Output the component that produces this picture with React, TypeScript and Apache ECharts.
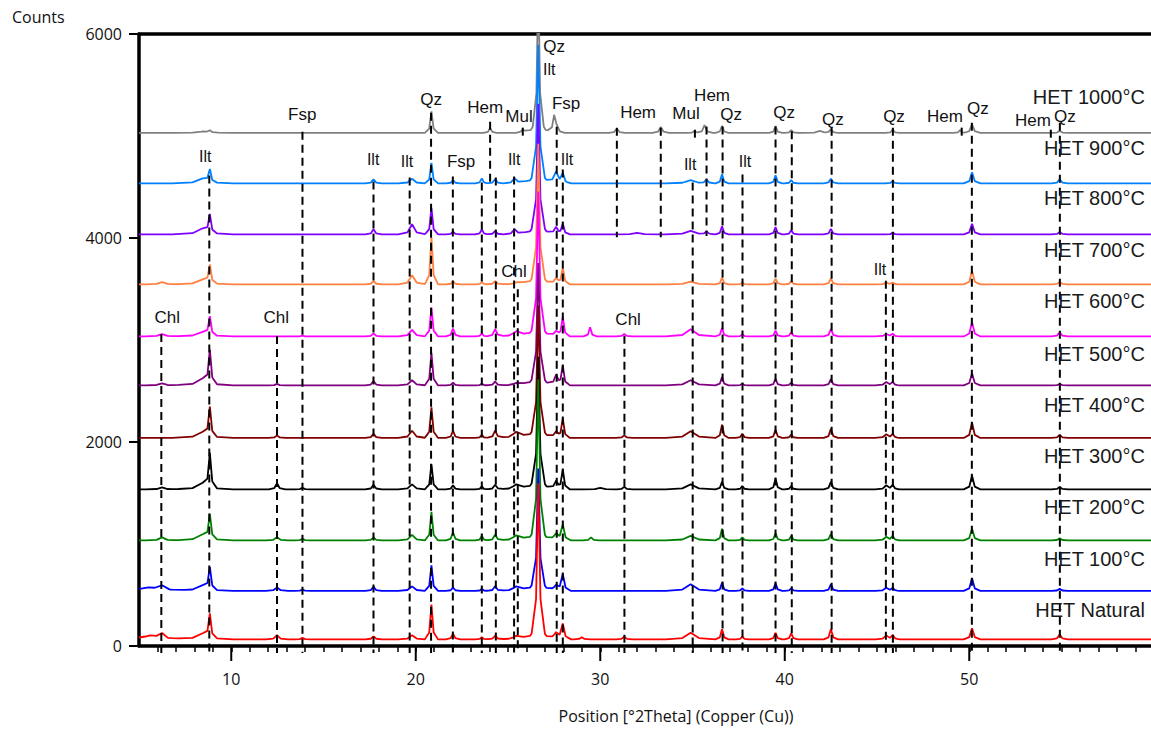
import React, { useEffect, useRef } from "react";
import * as echarts from "echarts";

// ---------- data ----------
const X_MIN = 5;
const X_MAX = 59.85;

const SAMPLE_NAMES = [
  "HET 1000°C", "HET 900°C", "HET 800°C", "HET 700°C", "HET 600°C", "HET 500°C",
  "HET 400°C", "HET 300°C", "HET 200°C", "HET 100°C", "HET Natural",
];
const SAMPLE_COLORS = [
  "#808080", "#0080ff", "#8000ff", "#ff8040", "#ff00ff", "#800080",
  "#800000", "#000000", "#008000", "#0000ff", "#ff0000",
];
const BASELINES = [5030, 4535, 4035, 3545, 3035, 2555, 2040, 1535, 1035, 540, 65];
const SAMPLE_LABEL_Y = [5385, 4886, 4388, 3880, 3381, 2863, 2365, 1866, 1358, 850, 352];

// peaks: [position °2θ, height above baseline (counts), half width at base]
const peaks1000 = [
  [8.45, 15, 0.55], [8.84, 20, 0.15], [20.85, 212, 0.12], [24.03, 50, 0.12], [25.8, 20, 0.12],
  [26.64, 1350, 0.1], [26.64, 150, 0.4], [27.5, 150, 0.12], [27.64, 60, 0.15],
  [30.9, 43, 0.15], [33.28, 60, 0.15], [35.1, 17, 0.15], [35.65, 76, 0.15],
  [36.6, 70, 0.12], [39.5, 67, 0.12], [40.35, 27, 0.12], [41.9, 20, 0.3],
  [42.5, 33, 0.13], [45.85, 33, 0.13], [49.5, 27, 0.12], [50.15, 85, 0.15], [54.9, 20, 0.15],
];
const peaks900 = [
  [8.45, 50, 0.55], [8.84, 120, 0.13], [17.71, 40, 0.15], [19.8, 46, 0.25], [20.85, 202, 0.12],
  [22.02, 33, 0.13], [23.58, 50, 0.12], [24.3, 40, 0.15], [25.35, 50, 0.2],
  [26.64, 1210, 0.12], [26.64, 150, 0.45], [27.6, 100, 0.2], [27.97, 90, 0.15],
  [34.9, 33, 0.45], [35.76, 33, 0.15], [36.6, 90, 0.12], [39.5, 80, 0.12], [40.35, 33, 0.12],
  [42.5, 46, 0.13], [45.85, 23, 0.13], [50.15, 110, 0.15], [54.9, 40, 0.15],
];
const peaks800 = [
  [8.45, 60, 0.55], [8.84, 175, 0.13], [17.71, 50, 0.15], [19.8, 100, 0.25], [20.85, 260, 0.12],
  [22.02, 26, 0.13], [23.58, 50, 0.12], [24.3, 33, 0.15], [25.35, 50, 0.2],
  [26.64, 1130, 0.12], [26.64, 150, 0.45], [27.6, 60, 0.15], [27.97, 104, 0.13],
  [32, 15, 0.4], [34.9, 35, 0.45], [35.76, 25, 0.15], [36.6, 80, 0.12], [39.5, 73, 0.12],
  [40.35, 40, 0.12], [42.5, 55, 0.13], [45.85, 15, 0.13], [50.15, 105, 0.15], [54.9, 23, 0.15],
];
const peaks700 = [
  [6.25, 23, 0.3], [8.45, 50, 0.55], [8.84, 175, 0.13], [17.71, 33, 0.15], [19.8, 90, 0.25],
  [20.85, 460, 0.12], [22.02, 33, 0.13], [23.58, 23, 0.12], [24.3, 33, 0.15], [25.45, 16, 0.4],
  [26.64, 1230, 0.12], [26.64, 150, 0.45], [27.6, 50, 0.15], [27.97, 163, 0.13],
  [34.9, 27, 0.45], [36.6, 66, 0.12], [37.7, 16, 0.12], [39.5, 57, 0.12], [40.35, 33, 0.12],
  [42.5, 57, 0.13], [45.5, 16, 0.2], [45.85, 16, 0.13], [50.15, 133, 0.15], [54.9, 23, 0.15],
];
const peaks600 = [
  [6.25, 23, 0.3], [8.45, 45, 0.55], [8.84, 180, 0.13], [13.86, 7, 0.15], [17.71, 30, 0.15],
  [19.8, 65, 0.25], [20.85, 283, 0.12], [22.02, 78, 0.13], [23.58, 30, 0.12], [24.3, 72, 0.15],
  [25.45, 46, 0.4], [26.64, 1270, 0.12], [26.64, 150, 0.45], [27.6, 40, 0.15], [27.97, 186, 0.13],
  [29.45, 90, 0.12], [31.3, 23, 0.15], [34.9, 70, 0.45], [36.6, 83, 0.12], [37.7, 20, 0.12],
  [39.5, 57, 0.12], [40.35, 40, 0.12], [42.5, 73, 0.13], [45.5, 23, 0.2], [45.85, 23, 0.13],
  [50.15, 140, 0.15], [54.9, 40, 0.15],
];
const peaks500 = [
  [6.25, 20, 0.3], [8.45, 70, 0.55], [8.84, 320, 0.13], [12.48, 15, 0.15], [17.71, 42, 0.15],
  [19.8, 50, 0.25], [20.85, 320, 0.12], [22.02, 26, 0.13], [23.58, 16, 0.12], [24.3, 36, 0.15],
  [25.45, 20, 0.4], [26.64, 1050, 0.12], [26.64, 150, 0.45], [27.6, 90, 0.15], [27.97, 190, 0.13],
  [34.9, 50, 0.45], [36.6, 83, 0.12], [37.7, 16, 0.12], [39.5, 65, 0.12], [40.35, 26, 0.12],
  [42.5, 60, 0.13], [45.5, 33, 0.2], [45.85, 30, 0.13], [50.15, 117, 0.15], [54.9, 12, 0.15],
];
const peaks400 = [
  [8.45, 60, 0.55], [8.84, 280, 0.13], [12.48, 25, 0.15], [17.71, 40, 0.15], [19.8, 70, 0.25],
  [20.85, 300, 0.12], [22.02, 70, 0.13], [23.58, 30, 0.12], [24.3, 70, 0.15], [25.45, 55, 0.4],
  [26.64, 1150, 0.12], [26.64, 150, 0.45], [27.6, 50, 0.15], [27.97, 185, 0.13], [31.3, 25, 0.15],
  [34.9, 65, 0.45], [36.6, 130, 0.12], [37.7, 40, 0.12], [39.5, 80, 0.12], [40.35, 33, 0.12],
  [42.5, 90, 0.13], [45.5, 35, 0.2], [45.85, 35, 0.13], [50.15, 150, 0.15], [54.9, 30, 0.15],
];
const peaks300 = [
  [6.25, 20, 0.3], [8.45, 65, 0.55], [8.84, 330, 0.13], [12.48, 60, 0.15], [13.86, 15, 0.15],
  [17.71, 45, 0.15], [19.8, 50, 0.25], [20.85, 245, 0.12], [22.02, 40, 0.13], [23.58, 30, 0.12],
  [24.3, 45, 0.15], [25.45, 45, 0.4], [26.64, 1150, 0.12], [26.64, 150, 0.45], [27.6, 70, 0.15],
  [27.97, 190, 0.13], [30.0, 15, 0.3], [31.3, 25, 0.15], [34.9, 50, 0.45], [36.6, 75, 0.12],
  [37.7, 33, 0.12], [39.5, 105, 0.12], [40.35, 33, 0.12], [42.5, 75, 0.13], [45.5, 40, 0.2],
  [45.85, 40, 0.13], [50.15, 135, 0.15], [54.9, 25, 0.15],
];
const peaks200 = [
  [6.25, 30, 0.3], [8.45, 60, 0.55], [8.84, 235, 0.13], [12.48, 30, 0.2], [13.86, 15, 0.15],
  [17.71, 30, 0.15], [19.8, 55, 0.25], [20.85, 280, 0.12], [22.02, 80, 0.13], [23.58, 45, 0.12],
  [24.3, 55, 0.15], [25.45, 45, 0.4], [26.64, 1430, 0.12], [26.64, 150, 0.45], [27.6, 50, 0.2],
  [27.97, 150, 0.15], [29.5, 30, 0.15], [34.9, 45, 0.45], [36.6, 115, 0.12], [37.7, 30, 0.12],
  [39.5, 70, 0.12], [40.35, 45, 0.12], [42.5, 65, 0.13], [45.5, 35, 0.2], [45.85, 40, 0.13],
  [50.15, 115, 0.15], [54.9, 20, 0.15],
];
const peaks100 = [
  [5.5, 30, 1.2], [6.25, 40, 0.4], [8.45, 55, 0.55], [8.84, 210, 0.13], [12.48, 35, 0.2],
  [13.86, 10, 0.15], [17.71, 40, 0.15], [19.8, 45, 0.25], [20.85, 250, 0.12], [22.02, 33, 0.13],
  [23.58, 20, 0.12], [24.3, 45, 0.15], [25.45, 40, 0.4], [26.64, 1060, 0.12], [26.64, 140, 0.45],
  [27.6, 40, 0.2], [27.97, 160, 0.15], [34.9, 65, 0.45], [36.6, 80, 0.12], [37.7, 25, 0.12],
  [39.5, 75, 0.12], [40.35, 25, 0.12], [42.5, 65, 0.13], [45.5, 30, 0.2], [45.85, 25, 0.13],
  [50.15, 125, 0.15], [54.9, 20, 0.15],
];
const peaksNatural = [
  [5.6, 35, 1.0], [6.25, 45, 0.3], [8.45, 60, 0.55], [8.84, 230, 0.13], [12.48, 40, 0.2],
  [13.86, 15, 0.15], [17.71, 30, 0.15], [19.8, 40, 0.25], [20.85, 340, 0.12], [22.02, 55, 0.13],
  [23.58, 20, 0.12], [24.3, 35, 0.15], [25.45, 30, 0.4], [26.64, 1380, 0.12], [26.64, 150, 0.45],
  [27.6, 50, 0.2], [27.97, 150, 0.15], [29.0, 20, 0.15], [31.3, 25, 0.15], [34.9, 65, 0.45],
  [36.6, 100, 0.12], [37.7, 28, 0.12], [39.5, 65, 0.12], [40.35, 58, 0.12], [42.5, 100, 0.13],
  [45.5, 38, 0.2], [45.85, 38, 0.13], [50.15, 110, 0.15], [54.9, 48, 0.15],
];
const PEAKS = [
  peaks1000, peaks900, peaks800, peaks700, peaks600, peaks500,
  peaks400, peaks300, peaks200, peaks100, peaksNatural,
];

// dashed reference lines: position, top (counts), bottom (counts)
const MARKER_X = [
  6.21, 8.81, 12.48, 13.86, 17.71, 19.67, 20.83, 22.01, 23.58, 24.03, 24.34, 25.33, 25.53, 25.8,
  27.64, 27.97, 30.9, 31.31, 33.28, 35.01, 35.13, 35.76, 36.63, 37.71, 39.5, 40.38, 42.54,
  45.48, 45.86, 49.59, 50.14, 54.42, 54.91,
];
const MARKER_TOP = [
  3059, 4612, 3039, 5042, 4554, 4593, 5228, 4603, 4544, 5140, 4593, 4603, 3498, 5082,
  5091, 4671, 5082, 3042, 5082, 4544, 5062, 5094, 5094, 4622, 5094, 5046, 5082,
  3580, 5082, 5082, 5130, 5062, 5130,
];
const MARKER_BOTTOM = [
  0, 0, 0, 0, 0, 0, 0, 0, 0, 4544, 0, 0, 0, 4984,
  0, 0, 4007, 0, 4007, 0, 4984, 4019, 0, 0, 0, 0, 0,
  0, 0, 5003, 0, 4964, 0,
];

// phase labels
const PHASE_TEXT = [
  "Chl", "Ilt", "Chl", "Fsp", "Ilt", "Ilt", "Qz", "Fsp", "Hem", "Mul", "Ilt", "Chl",
  "Qz", "Ilt", "Fsp", "Ilt", "Hem", "Chl", "Mul", "Hem", "Ilt", "Qz", "Ilt", "Qz",
  "Qz", "Qz", "Ilt", "Hem", "Qz", "Hem", "Qz",
];
const PHASE_X = [
  6.53, 8.59, 12.44, 13.85, 17.69, 19.53, 20.83, 22.46, 23.76, 25.6, 25.33, 25.33,
  27.5, 27.23, 28.15, 28.2, 32.05, 31.51, 34.65, 36.06, 34.87, 37.09, 37.85, 39.96,
  42.61, 45.92, 45.16, 48.68, 50.47, 53.45, 55.18,
];
const PHASE_Y = [
  3225, 4800, 3225, 5209, 4769, 4749, 5355, 4749, 5277, 5189, 4769, 3674,
  5873, 5648, 5316, 4769, 5228, 3205, 5218, 5394, 4720, 5209, 4749, 5228,
  5160, 5189, 3694, 5189, 5267, 5150, 5189,
];

const X_MAJOR_TICKS = [10, 20, 30, 40, 50];
const Y_TICK_INTERVAL = 2000;

const FONT_AXIS = "'Open Sans', 'Noto Sans', sans-serif";
const FONT_ANN = "'Liberation Sans', Arial, sans-serif";

// ---------- helpers ----------
// each peak: sharp core (70 %) plus a wider skirt (30 %)
function peakAt(x: number, p: number, h: number, w: number) {
  const core = Math.max(0, 1 - Math.abs(x - p) / w) * 0.7 * h;
  const skirt = Math.max(0, 1 - Math.abs(x - p) / (w * 3)) * 0.3 * h;
  return core + skirt;
}

function buildTrace(base: number, peaks: number[][]) {
  const xs: number[] = [X_MIN, X_MAX];
  peaks.forEach(([p, , w]) => xs.push(p - 3 * w, p - w, p, p + w, p + 3 * w));
  xs.sort((a, b) => a - b);
  return xs
    .filter((x) => x >= X_MIN && x <= X_MAX)
    .map((x) => [x, base + peaks.reduce((s, [p, h, w]) => s + peakAt(x, p, h, w), 0)]);
}

export default function App() {
  const ref = useRef<HTMLDivElement>(null);

  useEffect(() => {
    if (!ref.current) return;
    const chart = echarts.init(ref.current, undefined, { renderer: "svg" });

    const traceSeries = PEAKS.map((pk, i) => ({
      type: "line",
      name: SAMPLE_NAMES[i],
      data: buildTrace(BASELINES[i], pk),
      showSymbol: false,
      symbol: "none",
      lineStyle: { color: SAMPLE_COLORS[i], width: 1.8 },
      itemStyle: { color: SAMPLE_COLORS[i] },
      z: 2,
      silent: true,
    }));

    const markerSeries = {
      type: "custom",
      data: MARKER_X.map((x, i) => [x, MARKER_TOP[i], MARKER_BOTTOM[i]]),
      z: 5,
      silent: true,
      clip: false,
      renderItem: (params: any, api: any) => {
        const x = api.value(0);
        const top = api.value(1);
        const bot = api.value(2);
        const p1 = api.coord([x, top]);
        const p2 = api.coord([x, bot]);
        return {
          type: "line",
          shape: { x1: p1[0], y1: p1[1], x2: p2[0], y2: p2[1] + (bot === 0 ? 7 : 0) },
          style: { stroke: "#000", lineWidth: 2, lineDash: [8, 5] },
        };
      },
    };

    const phaseLabelSeries = {
      type: "custom",
      data: PHASE_X.map((x, i) => [x, PHASE_Y[i]]),
      z: 6,
      silent: true,
      clip: false,
      renderItem: (params: any, api: any) => {
        const p = api.coord([api.value(0), api.value(1)]);
        const t = PHASE_TEXT[params.dataIndex];
        return {
          type: "text",
          x: p[0],
          y: p[1],
          style: {
            text: t,
            fontSize: t === "Ilt" ? 16 : 17,
            fontFamily: FONT_ANN,
            fill: "#111",
            align: "center",
            verticalAlign: "middle",
          },
        };
      },
    };

    const sampleLabelSeries = {
      type: "custom",
      data: SAMPLE_LABEL_Y.map((y) => [59.52, y]),
      z: 6,
      silent: true,
      clip: false,
      renderItem: (params: any, api: any) => {
        const p = api.coord([api.value(0), api.value(1)]);
        return {
          type: "text",
          x: p[0],
          y: p[1],
          style: {
            text: SAMPLE_NAMES[params.dataIndex],
            fontSize: 20,
            fontFamily: FONT_ANN,
            fill: "#1a1a1a",
            align: "right",
            verticalAlign: "middle",
          },
        };
      },
    };

    const majorTickSeries = {
      type: "custom",
      data: X_MAJOR_TICKS.map((v) => [v, 0]),
      z: 6,
      silent: true,
      clip: false,
      renderItem: (params: any, api: any) => {
        const p = api.coord([api.value(0), 0]);
        return {
          type: "line",
          shape: { x1: p[0], y1: p[1], x2: p[0], y2: p[1] + 15 },
          style: { stroke: "#000", lineWidth: 2 },
        };
      },
    };

    chart.setOption({
      animation: false,
      backgroundColor: "#fff",
      grid: { left: 139, right: 0, top: 34, bottom: 81, containLabel: false },
      graphic: [
        {
          type: "text",
          left: 12,
          top: 9,
          style: { text: "Counts", fontSize: 16, fontFamily: FONT_AXIS, fill: "#111" },
        },
      ],
      xAxis: [
        {
          type: "value",
          min: X_MIN,
          max: X_MAX,
          interval: 1,
          position: "bottom",
          axisLine: { show: true, lineStyle: { color: "#000", width: 3.5 } },
          axisTick: { show: true, length: 6, lineStyle: { color: "#000", width: 1.5 } },
          axisLabel: {
            show: true,
            margin: 25,
            fontSize: 16,
            fontFamily: FONT_AXIS,
            color: "#111",
            showMinLabel: false,
            showMaxLabel: false,
            formatter: (v: number) =>
              X_MAJOR_TICKS.indexOf(Math.round(v * 1000) / 1000) >= 0 ? String(v) : "",
          },
          splitLine: { show: false },
          name: "Position [°2Theta] (Copper (Cu))",
          nameLocation: "middle",
          nameGap: 62,
          nameTextStyle: {
            fontSize: 16,
            fontFamily: FONT_AXIS,
            color: "#111",
            padding: [0, 0, 0, 62],
          },
        },
        {
          type: "value",
          min: X_MIN,
          max: X_MAX,
          position: "top",
          axisLine: { show: true, lineStyle: { color: "#000", width: 3.5 } },
          axisTick: { show: false },
          axisLabel: { show: false },
          splitLine: { show: false },
        },
      ],
      yAxis: {
        type: "value",
        min: 0,
        max: 6000,
        interval: Y_TICK_INTERVAL,
        axisLine: { show: true, lineStyle: { color: "#000", width: 3.5 } },
        axisTick: { show: true, length: 10, lineStyle: { color: "#000", width: 2 } },
        axisLabel: {
          fontSize: 16,
          margin: 17,
          fontFamily: FONT_AXIS,
          color: "#111",
          formatter: (v: number) => String(v),
        },
        splitLine: { show: false },
      },
      series: [...traceSeries, markerSeries, phaseLabelSeries, sampleLabelSeries, majorTickSeries],
    });

    return () => chart.dispose();
  }, []);

  return (
    <div
      ref={ref}
      style={{ position: "absolute", left: 0, top: 0, width: 1151, height: 729 }}
    />
  );
}
